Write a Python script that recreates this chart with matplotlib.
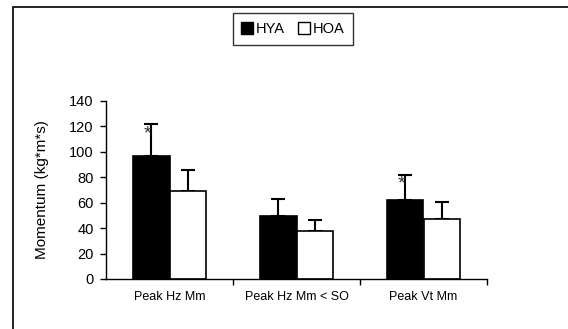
import matplotlib
matplotlib.use("Agg")
import matplotlib.pyplot as plt
from matplotlib.patches import Rectangle, Patch
import numpy as np

categories = ["Peak Hz Mm", "Peak Hz Mm < SO", "Peak Vt Mm"]
hya = [96.8, 49.7, 62.0]
hya_err = [24.9, 12.9, 19.4]
hoa = [69.1, 37.7, 47.4]
hoa_err = [16.5, 8.6, 13.3]
star_vals = [114, None, 75]
yticks = [0, 20, 40, 60, 80, 100, 120, 140]

plt.rcParams['font.family'] = ['Liberation Sans', 'DejaVu Sans']

fig = plt.figure(figsize=(5.68, 3.29), dpi=100)
ax = fig.add_axes([106/568, 1-279/329, (487-106)/568, (279-100.7)/329])

x = np.arange(len(categories))
w = 0.29
ax.bar(x - w/2, hya, w, color='black', edgecolor='black', linewidth=1.2, zorder=2)
ax.bar(x + w/2, hoa, w, color='white', edgecolor='black', linewidth=1.2, zorder=2)
ax.errorbar(x - w/2, hya, yerr=[np.zeros(3), hya_err], fmt='none', ecolor='black',
            elinewidth=1.5, capsize=5, capthick=1.5, zorder=1)
ax.errorbar(x + w/2, hoa, yerr=[np.zeros(3), hoa_err], fmt='none', ecolor='black',
            elinewidth=1.5, capsize=5, capthick=1.5, zorder=1)
for i, s in enumerate(star_vals):
    if s is not None:
        ax.text(x[i] - w/2 - 0.025, s, '*', ha='center', va='center', fontsize=14,
                color='#333333', zorder=3)

ax.set_xlim(-0.5, 2.5)
ax.set_ylim(0, 140)
ax.set_yticks(yticks)
ax.set_yticklabels([str(t) for t in yticks], fontsize=10.5)
ax.set_xticks(x)
ax.set_xticklabels(categories, fontsize=9)
ax.tick_params(axis='x', which='major', length=0, pad=9)
ax.set_xticks([0.5, 1.5, 2.5], minor=True)
ax.tick_params(axis='x', which='minor', length=4, width=1, direction='out')
ax.tick_params(axis='y', length=4, width=1, direction='out', pad=5)
for sp in ['top', 'right']:
    ax.spines[sp].set_visible(False)
for sp in ['left', 'bottom']:
    ax.spines[sp].set_linewidth(1)
ax.set_ylabel('Momentum (kg*m*s)', fontsize=11)
ax.yaxis.set_label_coords((49 - 106) / (487 - 106), 0.5)

handles = [Patch(facecolor='black', edgecolor='black'), Patch(facecolor='white', edgecolor='black')]
leg = fig.legend(handles, ['HYA', 'HOA'], loc='center', bbox_to_anchor=(293/568, 1-29/329),
                 ncol=2, fontsize=10.5, frameon=True, fancybox=False, shadow=False,
                 handlelength=0.8, handleheight=0.8, handletextpad=0.2, columnspacing=0.9,
                 borderpad=0.6, edgecolor='black')
leg.get_frame().set_linewidth(1)

fig.patches.append(Rectangle((13/568, -0.1), 1.2, 1.1 - 7.3/329, transform=fig.transFigure,
                             fill=False, edgecolor='black', linewidth=1.2))

fig.savefig('out.png', dpi=100)
